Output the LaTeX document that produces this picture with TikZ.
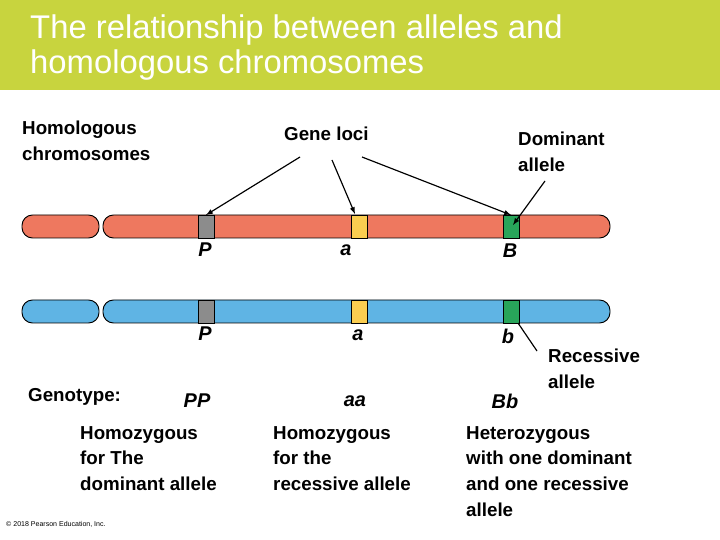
\documentclass[tikz,border=0pt]{standalone}
\usepackage{fontspec}
\setmainfont{Liberation Sans}
\usetikzlibrary{positioning}
\definecolor{titlegreen}{RGB}{200,212,62}
\definecolor{chrred}{RGB}{238,120,95}
\definecolor{chrblue}{RGB}{95,180,228}
\definecolor{bandgray}{RGB}{140,140,140}
\definecolor{bandyellow}{RGB}{250,205,80}
\definecolor{bandgreen}{RGB}{40,165,90}
\tikzset{
  lbl/.style={font=\bfseries\fontsize{16}{22}\selectfont, align=left, anchor=north west, inner sep=0pt},
  allele/.style={font=\bfseries\itshape\fontsize{17}{19}\selectfont, inner sep=0pt},
  band/.style={draw=black, line width=0.5pt},
  ptr/.style={-latex, line width=1pt}
}
\begin{document}
\begin{tikzpicture}[x=0.03cm, y=-0.03cm]
  \useasboundingbox (0,0) rectangle (720,540);
  \fill[white] (0,0) rectangle (720,540);
  \fill[titlegreen] (0,0) rectangle (720,90);
  \node[anchor=north west, text=white, align=left, inner sep=0pt,
        font=\fontsize{28}{30}\selectfont] (title) at (30,14)
        {The relationship between alleles and\\homologous chromosomes};

  % chromosomes
  \foreach \y/\col/\nm in {215/chrred/top, 300/chrblue/bot}{
    \draw[fill=\col, line width=0.8pt, rounded corners=9pt] (103,\y) rectangle (610,{\y+23});
    \draw[fill=\col, line width=0.8pt, rounded corners=9pt] (22,\y) rectangle (99,{\y+23});
    \draw[band, fill=bandgray] (198,\y) rectangle (214,{\y+23});
    \draw[band, fill=bandyellow] (351,\y) rectangle (367,{\y+23});
    \draw[band, fill=bandgreen] (503,\y) rectangle (519,{\y+23});
    \coordinate (P\nm) at (206,\y);
    \coordinate (a\nm) at (359,\y);
    \coordinate (B\nm) at (511,\y);
  }

  \node[allele] (P1) at (205,250) {P};
  \node[allele] (a1) at (346,250) {a};
  \node[allele] (B1) at (510,251) {B};
  \node[allele] (P2) at (205,334) {P};
  \node[allele] (a2) at (358,335) {a};
  \node[allele] (b2) at (508,336) {b};

  \node[lbl] (homol) at (22,121) {Homologous\\chromosomes};
  \node[lbl] (loci) at (284,127) {Gene loci};
  \node[lbl] (dom) at (518,132) {Dominant\\allele};
  \node[lbl] (rec) at (548,349) {Recessive\\allele};

  \draw[ptr] (300,157) -- (Ptop);
  \draw[ptr] (332,160) -- (355,214);
  \draw[ptr] (362,157) -- (Btop);
  \draw[ptr] (545,181) -- (513,225);
  \draw[line width=1pt] (518,323) -- (537,351);

  \node[lbl] (geno) at (28,388) {Genotype:};
  \node[allele] (PP) at (197,401) {PP};
  \node[allele] (aa) at (355,401) {aa};
  \node[allele] (Bb) at (505,401) {Bb};

  \node[lbl] (hom1) at (80,426) {Homozygous\\for The\\dominant allele};
  \node[lbl] (hom2) at (273,426) {Homozygous\\for the\\recessive allele};
  \node[lbl] (het) at (466,426) {Heterozygous\\with one dominant\\and one recessive\\allele};
  \node[anchor=south west, inner sep=0pt, font=\fontsize{6}{7}\selectfont] (copy) at (6,528)
    {© 2018 Pearson Education, Inc.};
\end{tikzpicture}
\end{document}
